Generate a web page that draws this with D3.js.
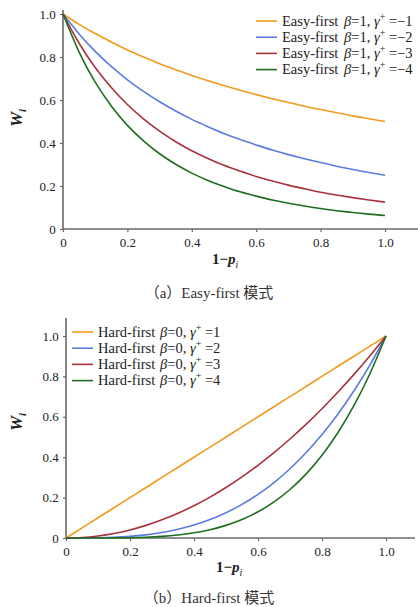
<!DOCTYPE html>
<html><head><meta charset="utf-8">
<script src="https://cdn.jsdelivr.net/npm/d3@7"></script>
<style>
html,body{margin:0;padding:0;background:#fff;}
svg{display:block;}
svg text{font-family:"Liberation Serif","DejaVu Serif","Times New Roman",serif;}
svg text.cap{font-family:"Liberation Serif","Noto Sans CJK SC",serif;}
</style></head>
<body>
<svg id="c" width="418" height="607"></svg>
<script>
// ---------- data ----------
const xValues = [0, 0.05, 0.1, 0.15, 0.2, 0.25, 0.3, 0.35, 0.4, 0.45, 0.5, 0.55, 0.6, 0.65, 0.7, 0.75, 0.8, 0.85, 0.9, 0.95, 1.0];
const xTicks = [0, 0.2, 0.4, 0.6, 0.8, 1.0];
const yTicks = [0, 0.2, 0.4, 0.6, 0.8, 1.0];

const easyLabels = ["Easy-first", "Easy-first", "Easy-first", "Easy-first"];
const easyBeta = ["1", "1", "1", "1"];
const easyGamma = ["\u22121", "\u22122", "\u22123", "\u22124"];
const easyG1 = [1, 0.952, 0.909, 0.870, 0.833, 0.800, 0.769, 0.741, 0.714, 0.690, 0.667, 0.645, 0.625, 0.606, 0.588, 0.571, 0.556, 0.541, 0.526, 0.513, 0.500];
const easyG2 = [1, 0.907, 0.826, 0.756, 0.694, 0.640, 0.592, 0.549, 0.510, 0.476, 0.444, 0.416, 0.391, 0.367, 0.346, 0.327, 0.309, 0.292, 0.277, 0.263, 0.250];
const easyG3 = [1, 0.864, 0.751, 0.658, 0.579, 0.512, 0.455, 0.406, 0.364, 0.328, 0.296, 0.269, 0.244, 0.223, 0.204, 0.187, 0.171, 0.158, 0.146, 0.135, 0.125];
const easyG4 = [1, 0.823, 0.683, 0.572, 0.482, 0.410, 0.350, 0.301, 0.260, 0.226, 0.198, 0.173, 0.153, 0.135, 0.120, 0.107, 0.095, 0.085, 0.077, 0.069, 0.0625];

const hardLabels = ["Hard-first", "Hard-first", "Hard-first", "Hard-first"];
const hardBeta = ["0", "0", "0", "0"];
const hardGamma = ["1", "2", "3", "4"];
const hardG1 = [0, 0.05, 0.1, 0.15, 0.2, 0.25, 0.3, 0.35, 0.4, 0.45, 0.5, 0.55, 0.6, 0.65, 0.7, 0.75, 0.8, 0.85, 0.9, 0.95, 1.0];
const hardG2 = [0, 0.0001, 0.001, 0.0034, 0.008, 0.0156, 0.027, 0.0429, 0.064, 0.0911, 0.125, 0.1664, 0.216, 0.2746, 0.343, 0.4219, 0.512, 0.6141, 0.729, 0.8574, 1.0];
const hardG3 = [0, 0.0025, 0.01, 0.0225, 0.04, 0.0625, 0.09, 0.1225, 0.16, 0.2025, 0.25, 0.3025, 0.36, 0.4225, 0.49, 0.5625, 0.64, 0.7225, 0.81, 0.9025, 1.0];
const hardG4 = [0, 0.0000, 0.0001, 0.0005, 0.0016, 0.0039, 0.0081, 0.0150, 0.0256, 0.0410, 0.0625, 0.0915, 0.1296, 0.1785, 0.2401, 0.3164, 0.4096, 0.5220, 0.6561, 0.8145, 1.0];

const colors = ["#f39a1e", "#5b7be0", "#a8323c", "#1f6e1f"];

// ---------- drawing ----------
const svg = d3.select("#c");
const axisColor = "#6a6a6a";

function panel(cfg) {
  const x = d3.scaleLinear().domain([0, 1]).range([cfg.x0, cfg.x1]);
  const y = d3.scaleLinear().domain([0, 1]).range([cfg.y0, cfg.y1]);
  const g = svg.append("g");

  const fmt = d => d === 0 ? "0" : d3.format(".1f")(d);
  const xa = g.append("g").attr("transform", `translate(0,${cfg.y0})`)
    .call(d3.axisBottom(x).tickValues(xTicks).tickSize(3).tickSizeOuter(0).tickFormat(fmt));
  xa.select(".domain").attr("d", `M${cfg.x0},0H${cfg.xEnd}`);
  const ya = g.append("g").attr("transform", `translate(${cfg.x0},0)`)
    .call(d3.axisLeft(y).tickValues(yTicks).tickSize(3).tickSizeOuter(0).tickFormat(fmt));
  ya.select(".domain").attr("d", `M0,${cfg.y0}V${cfg.yTop}`);
  [xa, ya].forEach(a => {
    a.attr("font-family", null);
    a.select(".domain").attr("stroke", axisColor).attr("stroke-width", 1.6);
    a.selectAll(".tick line").attr("stroke", axisColor).attr("stroke-width", 1.2);
    a.selectAll(".tick text").attr("fill", "#222").attr("font-size", 13);
  });
  xa.selectAll(".tick text").attr("dy", "0.95em");
  ya.selectAll(".tick text").attr("dx", "-0.1em");

  const line = d3.line().x((d, i) => x(xValues[i])).y(d => y(d)).curve(d3.curveNatural);
  cfg.series.forEach((s, i) => {
    g.append("path").datum(s).attr("d", line)
      .attr("fill", "none").attr("stroke", colors[i]).attr("stroke-width", 1.6);
  });

  cfg.labels.forEach((lab, i) => {
    const ly = cfg.legY + i * 16.2;
    g.append("line").attr("x1", cfg.legX).attr("x2", cfg.legX + 21)
      .attr("y1", ly).attr("y2", ly).attr("stroke", colors[i]).attr("stroke-width", 1.6);
    g.append("text").attr("x", cfg.legX + 26).attr("y", ly + 4.5)
      .attr("font-size", 14.5).attr("fill", "#222").text(lab);
    const t = g.append("text").attr("x", cfg.legX + 88).attr("y", ly + 4.5)
      .attr("font-size", 14.5).attr("fill", "#222");
    t.append("tspan").attr("font-style", "italic").text("\u03B2");
    t.append("tspan").text("=" + cfg.beta[i] + ", ");
    t.append("tspan").attr("font-style", "italic").text("\u03B3");
    t.append("tspan").attr("font-size", 10).attr("dy", -6).text("+");
    t.append("tspan").attr("dy", 6).text(" =" + cfg.gamma[i]);
  });

  const yl = g.append("text").attr("transform", `translate(${cfg.yLabX},${cfg.yLabY}) rotate(-90)`)
    .attr("text-anchor", "middle").attr("font-size", 17)
    .attr("font-weight", "bold").attr("font-style", "italic").attr("fill", "#222");
  yl.append("tspan").text("W");
  yl.append("tspan").attr("font-size", 11).attr("dy", 4).text("i");

  const xl = g.append("text").attr("x", cfg.xLabX).attr("y", cfg.xLabY)
    .attr("font-size", 15).attr("fill", "#222");
  xl.append("tspan").attr("font-weight", "bold").text("1\u2212");
  xl.append("tspan").attr("font-style", "italic").attr("font-weight", "bold").text("p");
  xl.append("tspan").attr("font-size", 10).attr("font-style", "italic").attr("dy", 4).text("i");

  svg.append("text").attr("class", "cap").attr("x", 209).attr("y", cfg.capY).attr("text-anchor", "middle")
    .attr("font-size", 15).attr("fill", "#333").text(cfg.caption);
}

panel({
  x0: 63, x1: 385, xEnd: 418, y0: 229, y1: 14, yTop: 10,
  series: [easyG1, easyG2, easyG3, easyG4],
  labels: easyLabels, beta: easyBeta, gamma: easyGamma,
  legX: 256, legY: 21,
  yLabX: 22, yLabY: 118, xLabX: 212, xLabY: 264,
  capY: 298, caption: "（a）Easy-first 模式"
});

panel({
  x0: 66, x1: 386, xEnd: 415, y0: 538, y1: 336, yTop: 318,
  series: [hardG1, hardG2, hardG3, hardG4],
  labels: hardLabels, beta: hardBeta, gamma: hardGamma,
  legX: 72, legY: 332,
  yLabX: 22, yLabY: 422, xLabX: 216, xLabY: 572,
  capY: 603, caption: "（b）Hard-first 模式"
});
</script>
</body></html>
